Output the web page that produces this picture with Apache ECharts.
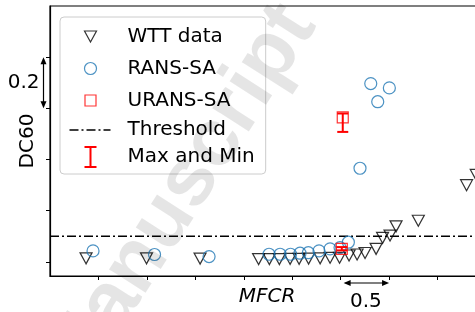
<!DOCTYPE html>
<html>
<head>
<meta charset="utf-8">
<title>DC60 vs MFCR</title>
<script src="https://cdn.jsdelivr.net/npm/echarts@6.0.0/dist/echarts.min.js"></script>
<style>
  html, body { margin: 0; padding: 0; background: #fff; }
  #main { width: 475px; height: 312px; }
</style>
</head>
<body>
<div id="main"></div>
<script>
// values
var wttX = [0.372, 0.996, 1.549, 2.153, 2.264, 2.367, 2.478, 2.571, 2.669, 2.788, 2.891, 2.989,
            3.087, 3.170, 3.252, 3.366, 3.433, 3.510, 3.572, 3.802, 4.300, 4.400];
var wttY = [0.014, 0.014, 0.013, 0.011, 0.011, 0.011, 0.012, 0.012, 0.013, 0.014, 0.016, 0.016,
            0.025, 0.029, 0.035, 0.051, 0.094, 0.103, 0.139, 0.161, 0.300, 0.340];
var ransX = [0.444, 1.079, 1.642, 2.261, 2.375, 2.483, 2.581, 2.667, 2.777, 2.891, 2.994, 3.080,
             3.200, 3.311, 3.383, 3.503];
var ransY = [0.043, 0.029, 0.021, 0.030, 0.030, 0.030, 0.034, 0.036, 0.043, 0.051, 0.056, 0.077,
             0.366, 0.697, 0.626, 0.680];
var uransX = [3.022, 3.012];
var uransY = [0.565, 0.051];
var uransMax = [0.580, 0.058];
var uransMin = [0.508, 0.045];
var thresholdY = 0.1;
var xRange = [0, 4.48];
var yRange = [-0.055, 1.0];
var xTicks = [0.5, 1, 1.5, 2, 2.5, 3, 3.5, 4];
var yTicks = [0, 0.2, 0.4, 0.6, 0.8];

function pairs(xs, ys) {
    var out = [];
    for (var i = 0; i < xs.length; i++) out.push([xs[i], ys[i]]);
    return out;
}

var ff = 'DejaVu Sans';
var blue = '#1f77b4';
var red = '#ff0000';

// legend icons drawn in a 53x24 box (the two leading moves pin the box)
var box = 'path://M0,0M53,24';
var iconTri = box + 'M15,6.5L27,6.5L21,17.5Z';
var iconCirc = box + 'M15,12A6,6,0,1,1,27,12A6,6,0,1,1,15,12Z';
var iconSq = box + 'M15.5,6.5H26.5V17.5H15.5Z';
var iconDash = box + 'M0,11.2H9V12.8H0ZM12,11.2H14V12.8H12ZM17,11.2H26V12.8H17ZM29,11.2H31V12.8H29ZM34,11.2H41V12.8H34Z';
var iconBar = box + 'M15,1H27V3H22V21H27V23H15V21H20V3H15Z';

var errData = [];
for (var i = 0; i < uransX.length; i++) errData.push([uransX[i], uransMax[i], uransMin[i]]);

var chart = echarts.init(document.getElementById('main'), null, {renderer: 'canvas'});

var option = {
    animation: false,
    backgroundColor: '#fff',
    grid: {
        left: 50, top: 6, right: -9, bottom: 36,
        show: true, borderColor: '#000', borderWidth: 1.2,
        outerBoundsMode: 'none'
    },
    xAxis: {
        type: 'value',
        min: xRange[0], max: xRange[1],
        name: 'MFCR',
        nameLocation: 'middle',
        nameGap: 11,
        nameTextStyle: {fontFamily: ff, fontSize: 20, fontStyle: 'italic', color: '#000'},
        axisLine: {show: true, onZero: false, lineStyle: {color: '#000', width: 1.2}},
        axisTick: {show: true, inside: false, length: 4, customValues: xTicks, lineStyle: {color: '#000', width: 1}},
        axisLabel: {show: false},
        splitLine: {show: false}
    },
    yAxis: {
        type: 'value',
        min: yRange[0], max: yRange[1],
        name: 'DC60',
        nameLocation: 'middle',
        nameGap: 12,
        nameTextStyle: {fontFamily: ff, fontSize: 20, color: '#000'},
        axisLine: {show: true, onZero: false, lineStyle: {color: '#000', width: 1.2}},
        axisTick: {show: true, inside: false, length: 4, customValues: yTicks, lineStyle: {color: '#000', width: 1}},
        axisLabel: {show: false},
        splitLine: {show: false}
    },
    legend: {
        left: 60, top: 17,
        orient: 'vertical',
        selectedMode: false,
        itemWidth: 53, itemHeight: 24, itemGap: 3,
        padding: [5, 11, 5, 7],
        backgroundColor: '#fff',
        borderColor: '#cccccc', borderWidth: 1, borderRadius: 4,
        textStyle: {fontFamily: ff, fontSize: 20, lineHeight: 24, color: '#000'},
        data: [
            {name: 'WTT data', icon: iconTri, itemStyle: {color: 'none', borderColor: '#000', borderWidth: 1.2}},
            {name: 'RANS-SA', icon: iconCirc, itemStyle: {color: 'none', borderColor: blue, borderWidth: 1.2}},
            {name: 'URANS-SA', icon: iconSq, itemStyle: {color: 'none', borderColor: red, borderWidth: 1.2}},
            {name: 'Threshold', icon: iconDash, itemStyle: {color: '#000', borderWidth: 0}},
            {name: 'Max and Min', icon: iconBar, itemStyle: {color: red, borderWidth: 0}}
        ]
    },
    series: [
        {
            name: 'Threshold',
            type: 'line',
            data: [[xRange[0], thresholdY], [xRange[1], thresholdY]],
            symbol: 'none',
            lineStyle: {color: '#000', width: 1.5, type: [9, 3, 2, 3]},
            z: 1
        },
        {
            name: 'WTT data',
            type: 'scatter',
            data: pairs(wttX, wttY),
            symbol: 'triangle',
            symbolRotate: 180,
            symbolSize: [12, 11],
            itemStyle: {color: 'none', borderColor: '#000', borderWidth: 1.2},
            z: 2
        },
        {
            name: 'RANS-SA',
            type: 'scatter',
            data: pairs(ransX, ransY),
            symbol: 'circle',
            symbolSize: 12,
            itemStyle: {color: 'none', borderColor: blue, borderWidth: 1.2},
            z: 3
        },
        {
            name: 'URANS-SA',
            type: 'scatter',
            data: pairs(uransX, uransY),
            symbol: 'rect',
            symbolSize: 11,
            itemStyle: {color: 'none', borderColor: red, borderWidth: 1.2},
            z: 4
        },
        {
            name: 'Max and Min',
            type: 'custom',
            data: errData,
            encode: {x: 0, y: [1, 2]},
            z: 5,
            renderItem: function (params, api) {
                var top = api.coord([api.value(0), api.value(1)]);
                var bot = api.coord([api.value(0), api.value(2)]);
                var hw = 5.5;
                var st = {stroke: red, lineWidth: 2};
                return {
                    type: 'group',
                    children: [
                        {type: 'line', shape: {x1: top[0], y1: top[1], x2: bot[0], y2: bot[1]}, style: st},
                        {type: 'line', shape: {x1: top[0] - hw, y1: top[1], x2: top[0] + hw, y2: top[1]}, style: st},
                        {type: 'line', shape: {x1: bot[0] - hw, y1: bot[1], x2: bot[0] + hw, y2: bot[1]}, style: st}
                    ]
                };
            }
        }
    ]
};

chart.setOption(option);

// scale annotations, placed from the axes
var p08 = chart.convertToPixel({gridIndex: 0}, [xRange[0], 0.8]);
var p06 = chart.convertToPixel({gridIndex: 0}, [xRange[0], 0.6]);
var q30 = chart.convertToPixel({gridIndex: 0}, [3.0, yRange[0]]);
var q35 = chart.convertToPixel({gridIndex: 0}, [3.5, yRange[0]]);
var ax = p08[0] - 6.5;
var ay = q30[1] + 7;

function head(x, y, dx, dy) {
    // filled arrow head pointing along (dx, dy)
    var L = 7, W = 3;
    var bx = x - dx * L, by = y - dy * L;
    return {
        type: 'polygon',
        shape: {points: [[x, y], [bx - dy * W, by + dx * W], [bx + dy * W, by - dx * W]]},
        style: {fill: '#000'}
    };
}

chart.setOption({
    graphic: [
        {type: 'line', shape: {x1: ax, y1: p08[1] + 2, x2: ax, y2: p06[1] - 2}, style: {stroke: '#000', lineWidth: 1.2}},
        head(ax, p08[1], 0, -1),
        head(ax, p06[1], 0, 1),
        {type: 'text', x: ax - 4, y: (p08[1] + p06[1]) / 2,
         style: {text: '0.2', font: '20px "DejaVu Sans"', fill: '#000', align: 'right', verticalAlign: 'middle'}},
        {type: 'line', shape: {x1: q30[0] + 5, y1: ay, x2: q35[0] - 3, y2: ay}, style: {stroke: '#000', lineWidth: 1.2}},
        head(q30[0] + 3, ay, -1, 0),
        head(q35[0], ay, 1, 0),
        {type: 'text', x: (q30[0] + q35[0]) / 2 + 1, y: ay + 19,
         style: {text: '0.5', font: '20px "DejaVu Sans"', fill: '#000', align: 'center', verticalAlign: 'middle'}},
        {type: 'text', x: 180, y: 197, rotation: 1.0, z: 100, silent: true,
         style: {text: 'Manuscript', font: 'bold 82px "Liberation Sans"', fill: 'rgba(0,0,0,0.1)',
                 align: 'center', verticalAlign: 'middle'}}
    ]
});
</script>
</body>
</html>
